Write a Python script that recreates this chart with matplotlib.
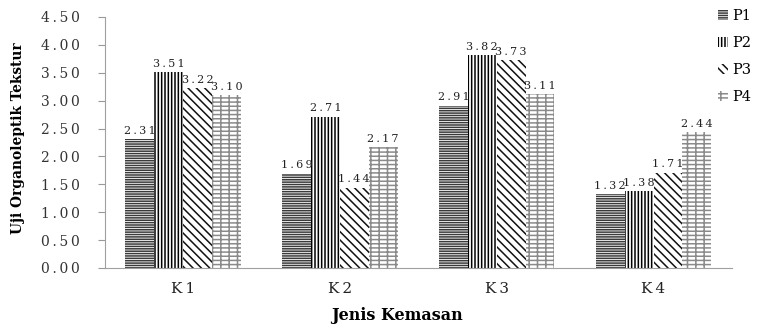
import matplotlib
matplotlib.use("Agg")
import matplotlib.pyplot as plt
import numpy as np

categories = ["K1", "K2", "K3", "K4"]
series_names = ["P1", "P2", "P3", "P4"]
P1 = [2.31, 1.69, 2.91, 1.32]
P2 = [3.51, 2.71, 3.82, 1.38]
P3 = [3.22, 1.44, 3.73, 1.71]
P4 = [3.10, 2.17, 3.11, 2.44]
yticks = [0.0, 0.5, 1.0, 1.5, 2.0, 2.5, 3.0, 3.5, 4.0, 4.5]

plt.rcParams['font.family'] = ['DejaVu Serif']
plt.rcParams['hatch.linewidth'] = 1.1


def spaced(s, sep='\u2009'):
    return sep.join(list(s))


fig = plt.figure(figsize=(7.64, 3.26), dpi=100)
ax = fig.add_axes([0.137, 0.178, 0.821, 0.77])

series = [P1, P2, P3, P4]
hatches = ['-------', '|||||', '\\\\\\\\', '--++']
hcolors = ['#3a3a3a', '#000000', '#111111', '#8a8a8a']
width = 0.184
x = np.arange(len(categories)) + 0.5
handles = []
for i, (vals, h, hc) in enumerate(zip(series, hatches, hcolors)):
    pos = x + (i - 1.5) * width
    b = ax.bar(pos, vals, width, color='white', edgecolor=hc, hatch=h,
               linewidth=0, label=series_names[i])
    handles.append(b)
    for px, v in zip(pos, vals):
        ax.text(px, v + 0.06, spaced(f"{v:.2f}"), ha='center', va='bottom',
                fontsize=8, color='#222222')

ax.set_xlim(0, 4)
ax.set_ylim(0, 4.5)
ax.set_yticks(yticks)
ax.set_yticklabels([spaced(f"{t:.2f}") for t in yticks], fontsize=10,
                   color='#333333')
ax.set_xticks(x)
ax.set_xticklabels([spaced(c) for c in categories], fontsize=11,
                   color='#222222')
ax.tick_params(axis='x', length=0, pad=10)
ax.tick_params(axis='y', length=5, color='#999999', pad=13)
for s in ['top', 'right']:
    ax.spines[s].set_visible(False)
for s in ['left', 'bottom']:
    ax.spines[s].set_color('#a0a0a0')

fig.text(18 / 764, 1 - 138 / 326, "Uji Organoleptik Tekstur", rotation=90,
         ha='center', va='center', fontsize=11, fontweight='bold',
         fontstretch='condensed')
fig.text(397 / 764, 1 - 316 / 326, "Jenis Kemasan", ha='center', va='center',
         fontsize=11.5, fontweight='bold')

fig.legend(handles=handles, labels=series_names, loc='upper left',
           bbox_to_anchor=(0.922, 1.012), frameon=False, fontsize=10.5,
           handlelength=0.7, handleheight=0.7, handletextpad=0.3,
           labelspacing=0.88)

fig.savefig("out.png", dpi=100)
